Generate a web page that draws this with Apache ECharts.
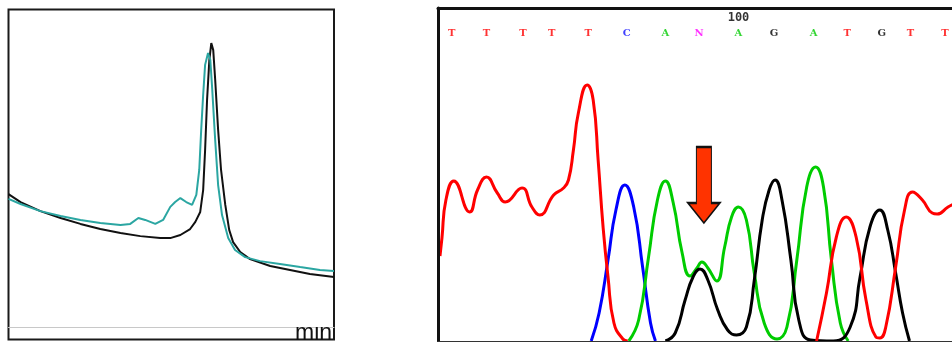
<!DOCTYPE html>
<html><head><meta charset="utf-8">
<script src="https://cdn.jsdelivr.net/npm/echarts@6/dist/echarts.min.js"></script>
<style>html,body{margin:0;padding:0;background:#fff}#c{width:952px;height:342px}</style>
</head><body><div id="c"></div><script>
// ---- Left panel: HPLC-like chromatogram (time in min, signal) ----
const hplcBlackTime = [0,0.37,0.98,1.60,2.21,2.82,3.44,4.05,4.66,4.97,5.28,5.58,5.74,5.89,5.98,6.04,6.10,6.17,6.23,6.29,6.35,6.44,6.53,6.66,6.78,6.90,7.12,7.42,8.04,8.65,9.26,10.0];
const hplcBlackSignal = [46.8,44.0,40.8,38.4,36.3,34.5,33.1,32.0,31.3,31.3,32.4,34.5,37.0,40.5,48.2,62.3,79.9,94.0,100,97.5,87.0,69.4,55.3,43.0,34.2,29.9,26.4,23.9,21.5,20.1,18.7,17.6];
const hplcTealTime = [0,0.37,0.98,1.60,2.21,2.82,3.44,3.74,3.99,4.20,4.51,4.75,4.97,5.12,5.28,5.46,5.64,5.77,5.86,5.92,5.98,6.04,6.13,6.20,6.26,6.35,6.44,6.56,6.75,6.96,7.27,7.73,8.34,8.96,9.57,10.0];
const hplcTealSignal = [45.1,43.3,40.8,39.1,37.7,36.6,35.9,36.3,38.4,37.7,36.3,37.7,42.3,44.0,45.4,44.0,43.0,46.5,55.3,69.4,81.7,92.3,96.5,94.0,83.5,65.8,50.0,39.4,31.3,27.1,24.6,23.2,22.2,21.1,20.1,19.7];
const timeUnit = 'min';

// ---- Right panel: Sanger sequencing trace (scan, intensity); '-' = no signal drawn ----
const redScan = [0,2,6,14,30,38,47,58,66,83,93,101,115,125,130,135,140,149,155,160,165,170,176,185,190,285,381,391,401,411,421,431,441,445,451,461,470,478,488,498,503,514,520];
const redInt  = [850,1030,1410,1600,1290,1510,1640,1480,1390,1530,1340,1260,1460,1530,1610,1910,2280,2560,2410,1810,1140,640,180,20,0,'-',0,480,1040,1240,1040,410,40,30,140,740,1310,1490,1410,1280,1270,1340,1370];
const blueScan = [153,161,170,178,187,196,205,213,218];
const blueInt  = [0,280,810,1310,1560,1340,740,180,0];
const greenScan = [191,201,211,220,228,236,245,253,260,265,271,280,288,295,302,310,318,328,341,351,361,371,380,388,396,405,413];
const greenInt  = [0,210,840,1410,1600,1380,880,650,730,790,730,600,940,1240,1340,1210,680,180,20,140,810,1540,1740,1540,810,180,0];
const blackScan = [228,238,248,256,263,271,281,291,300,310,318,326,333,339,346,355,363,375,398,415,425,435,445,453,461,468,475];
const blackInt  = [0,80,410,640,720,610,310,110,60,140,610,1210,1510,1610,1410,810,210,10,0,140,640,1140,1310,1110,680,280,0];
const baseCalls = ['T','T','T','T','T','C','A','N','A','G','A','T','G','T','T'];
const baseScan  = [12,47,84,113,150,189,228,262,302,338,378,412,447,476,511];
const firstBaseNumber = 92;
const arrowScan = 267, arrowIntensity = 1180;

const zip = (a, b) => a.map((v, i) => [v, b[i]]);
const baseColor = {T:'#ff0000', C:'#1010ff', A:'#00cc00', G:'#000000', N:'#ff00ff'};
const LETTER_Y = 3080, NUMBER_Y = 3227;

const letterData = baseCalls.map((b, i) => ({
  value: [baseScan[i], LETTER_Y],
  label: {color: baseColor[b], formatter: b}
}));
const numberData = [];
baseCalls.forEach((b, i) => {
  const n = firstBaseNumber + i;
  if (n % 10 === 0) numberData.push({value: [baseScan[i], NUMBER_Y], label: {formatter: String(n)}});
});

const hidden = {axisTick:{show:false}, axisLabel:{show:false}, splitLine:{show:false}};
const traceSeries = (name, xs, ys, color) => ({
  name, type:'line', xAxisIndex:1, yAxisIndex:1, data: zip(xs, ys),
  showSymbol:false, symbol:'none', smooth:0.5, connectNulls:false,
  lineStyle:{color, width:3}, itemStyle:{color}, clip:true, z:3
});
const clearDot = {color:'rgba(0,0,0,0)', borderWidth:0};

const chart = echarts.init(document.getElementById('c'));
chart.setOption({
  animation:false,
  grid:[
    {left:8.5, top:9.5, width:325.5, height:330, show:true, borderColor:'#1a1a1a', borderWidth:2, backgroundColor:'transparent'},
    {left:438, top:8, width:520, height:333, show:false}
  ],
  xAxis:[
    Object.assign({gridIndex:0, type:'value', min:0, max:10, axisLine:{onZero:true, lineStyle:{color:'#c8c8c8', width:1}}}, hidden),
    Object.assign({gridIndex:1, type:'value', min:-2, max:518, position:'bottom', z:10, axisLine:{onZero:false, lineStyle:{color:'#333', width:1}}}, hidden),
    Object.assign({gridIndex:1, type:'value', min:-2, max:518, position:'top', z:10, axisLine:{onZero:false, lineStyle:{color:'#111', width:3}}}, hidden)
  ],
  yAxis:[
    Object.assign({gridIndex:0, type:'value', min:-4.4, max:111.8, axisLine:{show:false}}, hidden),
    Object.assign({gridIndex:1, type:'value', min:0, max:3330, z:10, axisLine:{show:true, onZero:false, lineStyle:{color:'#111', width:3}}}, hidden)
  ],
  graphic:[
    {type:'text', x:295, y:345, z:50, style:{text:timeUnit, font:'23px "Liberation Sans", Arial, sans-serif', fill:'#111', verticalAlign:'bottom', align:'left'}},
    {type:'rect', z:100, shape:{x:294.5, y:300, width:38, height:26}, style:{fill:'#fff'}}
  ],
  series:[
    {type:'line', xAxisIndex:0, yAxisIndex:0, data:zip(hplcBlackTime, hplcBlackSignal), symbol:'none', lineStyle:{color:'#111', width:2}, z:3},
    {type:'line', xAxisIndex:0, yAxisIndex:0, data:zip(hplcTealTime, hplcTealSignal), symbol:'none', lineStyle:{color:'#2ba6a2', width:2}, z:4},
    traceSeries('C', blueScan, blueInt, '#0000ff'),
    traceSeries('A', greenScan, greenInt, '#00cc00'),
    traceSeries('G', blackScan, blackInt, '#000000'),
    traceSeries('T', redScan, redInt, '#ff0000'),
    {type:'scatter', xAxisIndex:1, yAxisIndex:1, data:letterData, symbolSize:1, itemStyle:clearDot, clip:false, z:5,
     label:{show:true, position:'inside', fontFamily:'"DejaVu Serif", serif', fontWeight:'bold', fontSize:10},
     markPoint:{
       symbol:'path://M8.5,0 L23.5,0 L23.5,56 L32,56 L16,76 L0,56 L8.5,56 Z',
       symbolSize:[32,76], symbolKeepAspect:false, symbolOffset:[0,'-50%'],
       itemStyle:{color:'#ff3300', borderColor:'#111', borderWidth:1.5},
       label:{show:false},
       data:[{coord:[arrowScan, arrowIntensity]}]
     }},
    {type:'scatter', xAxisIndex:1, yAxisIndex:1, data:numberData, symbolSize:1, itemStyle:clearDot, clip:false, z:5,
     label:{show:true, position:'inside', color:'#000', fontFamily:'"DejaVu Sans Mono", monospace', fontWeight:'bold', fontSize:12}}
  ]
});
</script></body></html>
